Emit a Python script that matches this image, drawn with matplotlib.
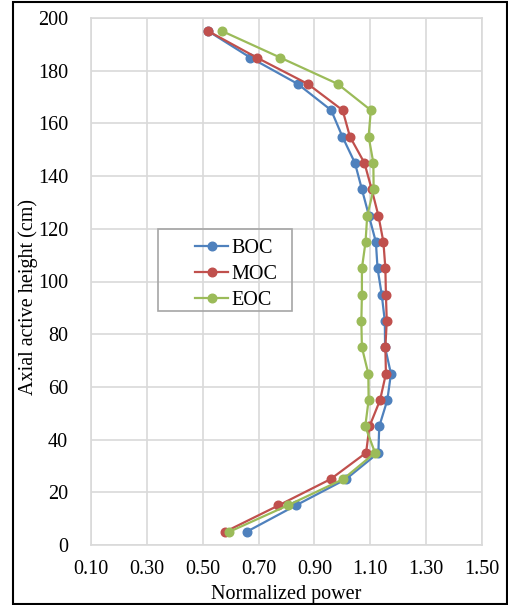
import numpy as np
import matplotlib.pyplot as plt
from matplotlib.patches import Rectangle

# axial heights (cm) and normalized power per cycle point
height = [195, 185, 175, 165, 155, 145, 135, 125, 115, 105, 95, 85, 75, 65, 55, 45, 35, 25, 15, 5]
boc = [0.52, 0.67, 0.84, 0.96, 1.00, 1.045, 1.07, 1.095, 1.12, 1.126, 1.141, 1.152, 1.153,
       1.174, 1.161, 1.132, 1.129, 1.013, 0.833, 0.657]
moc = [0.52, 0.693, 0.876, 1.001, 1.027, 1.079, 1.105, 1.129, 1.147, 1.154, 1.156, 1.159, 1.154,
       1.156, 1.135, 1.097, 1.085, 0.958, 0.771, 0.58]
eoc = [0.57, 0.777, 0.983, 1.102, 1.094, 1.111, 1.112, 1.089, 1.083, 1.07, 1.07, 1.068, 1.07,
       1.093, 1.094, 1.082, 1.117, 1.003, 0.804, 0.595]
labels = ['BOC', 'MOC', 'EOC']
colors = ['#4F81BD', '#C0504D', '#9BBB59']

plt.rcParams['font.family'] = ['Liberation Serif', 'DejaVu Serif']
FS = 14.5

fig = plt.figure(figsize=(5.08, 6.05), dpi=100)
ax = fig.add_axes([91 / 508, 60 / 605, 391 / 508, 527 / 605])

for vals, lab, c in zip([boc, moc, eoc], labels, colors):
    ax.plot(vals, height, color=c, lw=1.6, marker='o', ms=6.2, label=lab)

xt = np.arange(0.1, 1.51, 0.2)
ax.set_xlim(0.1, 1.5)
ax.set_ylim(0, 200)
ax.set_xticks(xt)
ax.set_xticklabels(['%.2f' % v for v in xt])
ax.set_yticks(np.arange(0, 201, 20))
ax.grid(True, color='#D9D9D9', lw=1.2)
ax.set_axisbelow(True)
for s in ax.spines.values():
    s.set_color('#D9D9D9')
    s.set_linewidth(1.2)
ax.tick_params(length=0, labelsize=FS)
ax.tick_params(axis='x', pad=11)
ax.tick_params(axis='y', pad=16.5)
ax.set_xlabel('Normalized power', fontsize=FS, labelpad=4)
ax.set_ylabel('Axial active height (cm)', fontsize=FS)
ax.yaxis.set_label_coords(-0.135, 0.47)

# legend text and handles, frame drawn separately (Excel style padding)
leg = ax.legend(loc='upper left', bbox_to_anchor=(185 / 508, 1 - 229 / 605),
                bbox_transform=fig.transFigure, fontsize=FS, frameon=False,
                handlelength=1.65, borderpad=0, labelspacing=0.33,
                handletextpad=0.15)
fig.patches.append(Rectangle((158 / 508, 1 - 311 / 605), 134 / 508, 82 / 605,
                             transform=fig.transFigure, fill=False,
                             edgecolor='#A6A6A6', lw=1.2, zorder=5))

# outer frame of the chart
fig.patches.append(Rectangle((12.5 / 508, 1.5 / 605), 494.5 / 508, 601.5 / 605,
                             transform=fig.transFigure, fill=False,
                             edgecolor='black', lw=1.5))

fig.savefig('out.png', dpi=100)
